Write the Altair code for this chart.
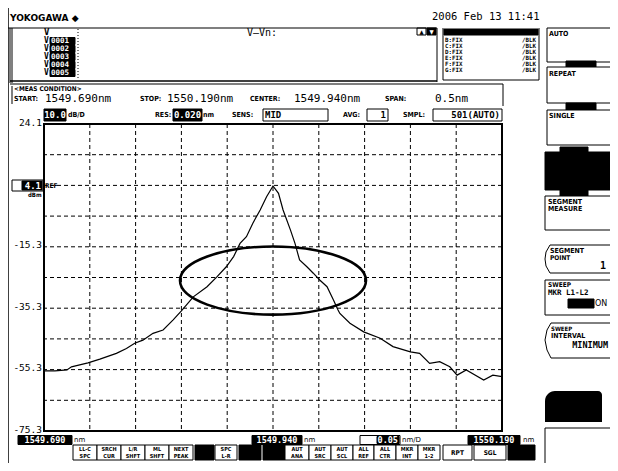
import altair as alt
import pandas as pd

wavelength_nm = [1549.690, 1549.702, 1549.715, 1549.720, 1549.738, 1549.751, 1549.769, 1549.780,
                 1549.789, 1549.798, 1549.809, 1549.820, 1549.831, 1549.840, 1549.853, 1549.868,
                 1549.879, 1549.889, 1549.897, 1549.904, 1549.911, 1549.918, 1549.926, 1549.933,
                 1549.940, 1549.946, 1549.951, 1549.959, 1549.964, 1549.969, 1549.977, 1549.984,
                 1549.991, 1549.999, 1550.006, 1550.011, 1550.013, 1550.024, 1550.039, 1550.057,
                 1550.071, 1550.090, 1550.100, 1550.111, 1550.122, 1550.133, 1550.141, 1550.151,
                 1550.170, 1550.180, 1550.190]
level_dbm = [-56.3, -56.3, -56.0, -55.0, -53.7, -52.5, -50.6, -49.0,
             -47.3, -46.3, -44.1, -43.0, -39.7, -36.8, -32.2, -28.9,
             -25.6, -22.4, -19.1, -14.8, -12.6, -8.2, -3.9, 0.4,
             3.9, 1.5, -3.9, -10.4, -14.8, -20.2, -22.4, -24.5,
             -26.7, -28.9, -33.2, -36.5, -37.6, -40.8, -43.6, -45.7,
             -48.4, -50.1, -50.6, -53.9, -53.3, -55.0, -57.7, -56.0,
             -59.3, -57.7, -58.2]

x_grid_nm = [1549.74, 1549.79, 1549.84, 1549.89, 1549.94, 1549.99, 1550.04, 1550.09, 1550.14]
y_grid_dbm = [14.1, 4.1, -5.9, -15.9, -25.9, -35.9, -45.9, -55.9, -65.9]
y_label_dbm = [24.1, -15.9, -35.9, -55.9, -75.9]
y_label_text = ["24.1", "-15.3", "-35.3", "-55.3", "-75.3"]
ellipse_nm = [1549.940]
ellipse_dbm = [-26.9]

# ---------------- layout ----------------
OX, OY = 44, 124      # page position of the plot origin
W, H = 458, 307
MONO = "DejaVu Sans Mono"
UI = "DejaVu Sans Condensed, Liberation Sans Narrow, DejaVu Sans, sans-serif"

xs = alt.Scale(domain=[1549.69, 1550.19], nice=False, zero=False)
ys = alt.Scale(domain=[-75.9, 24.1], nice=False, zero=False)

rects, rules, dotted, texts, polys = [], [], [], [], []


def box(x1, y1, x2, y2, fill="white", stroke="black"):
    rects.append(dict(x1=x1 - OX, y1=y1 - OY, x2=x2 - OX, y2=y2 - OY, fill=fill, stroke=stroke))


def rule(x1, y1, x2, y2, w=1.0):
    rules.append(dict(x1=x1 - OX, y1=y1 - OY, x2=x2 - OX, y2=y2 - OY, w=w))


def txt(x, y, t, s, c="black", font=UI, weight="bold", align="left"):
    texts.append(dict(x=x - OX, y=y - OY, t=t, s=s, c=c, font=font, weight=weight, align=align))


def poly(g, pts):
    for i, (px, py) in enumerate(pts):
        polys.append(dict(g=g, o=i, x=px - OX, y=py - OY))


# outer frame of the screen
rule(8, 5, 625, 5, 1.5)
rule(8, 5, 8, 470, 1.5)
# header / trace value area
rule(8, 28, 437, 28, 1.2)
rule(10, 28, 10, 83, 1)
rule(12, 28, 12, 83, 1)
rule(10, 81, 437, 81, 1.5)
rule(10, 84, 503, 84, 1.2)
rule(437, 28, 437, 82, 1)
rule(443, 28, 443, 80, 1)
rule(443, 80, 539, 80, 1)
rule(539, 28, 539, 80, 1)
rule(503, 84, 503, 106, 1)
rule(12, 86, 12, 104, 1)
dotted.append(dict(x1=78 - OX, y1=29 - OY, x2=78 - OX, y2=80 - OY))

txt(10, 18, "YOKOGAWA \u25c6", 9, font="DejaVu Sans, sans-serif")
txt(432, 17, "2006 Feb 13 11:41", 10.5, font=MONO, weight="normal")

txt(44, 32, "V", 9, font=MONO)
for i, yy in enumerate([41, 49, 57, 65, 73]):
    txt(44, yy, "V", 8, font=MONO)
    box(50, yy - 3.5, 75, yy + 3.5, "black", "black")
    txt(51, yy, "000%d" % (i + 1), 7.5, "white", font=MONO)
txt(247, 33, "V\u2014Vn:", 10, font=MONO, weight="normal")

box(417, 28, 426, 35)
box(427, 28, 436, 35, "black", "black")
txt(421.5, 31.5, "\u25b2", 6, align="center")
txt(431.5, 31.5, "\u25bc", 6, "white", align="center")

box(444, 29, 538, 35, "black", "black")
for i, lab in enumerate(["B:FIX", "C:FIX", "D:FIX", "E:FIX", "F:FIX", "G:FIX"]):
    txt(445, 40 + 6 * i, lab, 5.8, font=MONO)
    txt(536, 40 + 6 * i, "/BLK", 5.8, font=MONO, align="right")

# measurement conditions
txt(14, 89, "<MEAS CONDITION>", 6.5)
txt(14, 99, "START:", 7)
txt(45, 99, "1549.690nm", 11, font=MONO, weight="normal")
txt(140, 99, "STOP:", 7)
txt(167, 99, "1550.190nm", 11, font=MONO, weight="normal")
txt(250, 99, "CENTER:", 7)
txt(294, 99, "1549.940nm", 11, font=MONO, weight="normal")
txt(385, 99, "SPAN:", 7)
txt(435, 99, "0.5nm", 11, font=MONO, weight="normal")

box(44, 109, 66, 121, "black", "black")
txt(55, 115, "10.0", 9, "white", font=MONO, align="center")
txt(68, 115, "dB/D", 7)
txt(155, 115, "RES:", 7)
box(173, 109, 202, 121, "black", "black")
txt(187.5, 115, "0.020", 9, "white", font=MONO, align="center")
txt(203, 115, "nm", 7)
txt(232, 115, "SENS:", 7)
box(263, 109, 328, 121)
txt(265, 115, "MID", 9, font=MONO, weight="bold")
txt(343, 115, "AVG:", 7)
box(367, 109, 388, 121)
txt(386, 115, "1", 9, font=MONO, align="right")
txt(403, 115, "SMPL:", 7)
box(433, 109, 502, 121)
txt(500, 115, "501(AUTO)", 9, font=MONO, align="right")

# reference level
box(12, 180, 43, 191)
box(22, 181, 42, 190, "black", "black")
txt(41, 185.5, "4.1", 9, "white", font=MONO, align="right")
txt(45, 186, "REF", 6.5)
txt(28, 195, "dBm", 6)

# soft keys on the right
box(547, 28, 625, 62)
txt(549, 34, "AUTO", 7)
box(566, 61, 596, 67, "black", "black")
box(547, 67, 625, 103)
txt(549, 74, "REPEAT", 7)
box(566, 103, 596, 110, "black", "black")
box(547, 110, 625, 145)
txt(549, 116, "SINGLE", 7)
box(560, 147, 588, 153, "black", "black")
box(545, 152, 625, 190, "black", "black")
box(560, 189, 588, 196, "black", "black")
box(545, 196, 625, 230)
txt(548, 202, "SEGMENT", 7)
txt(548, 209, "MEASURE", 7)
poly("seg", [(625, 245), (550, 245), (546, 252), (545, 259), (546, 266), (550, 273), (625, 273)])
txt(550, 251, "SEGMENT", 7)
txt(550, 258, "POINT", 6.5)
txt(606, 266, "1", 10, font=MONO, align="right")
box(545, 280, 625, 315)
txt(548, 285, "SWEEP", 6.5)
txt(548, 292.5, "MKR L1-L2", 7.5, font=MONO)
box(568, 299, 594, 308, "black", "black")
txt(595, 304, "ON", 8, font="DejaVu Sans, sans-serif", weight="normal")
poly("int", [(625, 323), (551, 323), (547, 330), (545, 340), (547, 350), (551, 358), (625, 358)])
txt(551, 329, "SWEEP", 6)
txt(551, 336, "INTERVAL", 7)
txt(608, 345, "MINIMUM", 8.5, font=MONO, align="right")
box(545, 428, 625, 465)

# bottom value labels
LBL_Y0, LBL_Y1, LBL_YC = 435.5, 444.5, 440
box(18, LBL_Y0, 72, LBL_Y1, "black", "black")
txt(45, LBL_YC, "1549.690", 8.5, "white", font=MONO, align="center")
txt(74, LBL_YC, "nm", 7, weight="normal", font="DejaVu Sans, sans-serif")
box(252, LBL_Y0, 302, LBL_Y1, "black", "black")
txt(277, LBL_YC, "1549.940", 8.5, "white", font=MONO, align="center")
txt(304, LBL_YC, "nm", 7, weight="normal", font="DejaVu Sans, sans-serif")
box(360, LBL_Y0, 400, LBL_Y1)
box(377, LBL_Y0 + 1, 399, LBL_Y1 - 1, "black", "black")
txt(398, LBL_YC, "0.05", 8.5, "white", font=MONO, align="right")
txt(402, LBL_YC, "nm/D", 7, weight="normal", font="DejaVu Sans, sans-serif")
box(468, LBL_Y0, 520, LBL_Y1, "black", "black")
txt(494, LBL_YC, "1550.190", 8.5, "white", font=MONO, align="center")
txt(523, LBL_YC, "nm", 7, weight="normal", font="DejaVu Sans, sans-serif")

# bottom function buttons
buttons = [(73, 97, "LL-C", "SPC", False), (97, 121, "SRCH", "CUR", False),
           (121, 145, "L/R", "SHFT", False), (145, 169, "ML", "SHFT", False),
           (169, 193, "NEXT", "PEAK", False), (195, 214, "", "", True),
           (215, 237, "SPC", "L-R", False), (239, 261, "", "", True),
           (263, 285, "", "", True), (285, 309, "AUT", "ANA", False),
           (309, 331, "AUT", "SRC", False), (331, 353, "AUT", "SCL", False),
           (353, 374, "ALL", "REF", False), (374, 396, "ALL", "CTR", False),
           (396, 418, "MKR", "INT", False), (418, 440, "MKR", "1-2", False),
           (443, 472, "RPT", "", False), (474, 506, "SGL", "", False),
           (508, 535, "", "", True)]
for bx1, bx2, t1, t2, dark in buttons:
    if dark:
        box(bx1, 445, bx2, 460, "black", "black")
    else:
        box(bx1, 445, bx2, 460)
        if t2:
            txt((bx1 + bx2) / 2, 449, t1, 5.5, align="center")
            txt((bx1 + bx2) / 2, 456, t2, 5.5, align="center")
        else:
            txt((bx1 + bx2) / 2, 452.5, t1, 6.5, align="center")

# ---------------- charts ----------------
bg_rects = alt.Chart(pd.DataFrame(rects)).mark_rect(strokeWidth=1).encode(
    x=alt.X("x1:Q", scale=None), x2="x2:Q",
    y=alt.Y("y1:Q", scale=None), y2="y2:Q",
    fill=alt.Fill("fill:N", scale=None), stroke=alt.Stroke("stroke:N", scale=None))

blob = alt.Chart(pd.DataFrame({"a": [0]})).mark_rect(
    color="black", cornerRadiusTopLeft=10, cornerRadiusTopRight=4).encode(
    x=alt.value(545 - OX), x2=alt.value(602 - OX), y=alt.value(391 - OY), y2=alt.value(422 - OY))

rule_layer = alt.Chart(pd.DataFrame(rules)).mark_rule(color="black").encode(
    x=alt.X("x1:Q", scale=None), x2="x2:Q",
    y=alt.Y("y1:Q", scale=None), y2="y2:Q",
    strokeWidth=alt.StrokeWidth("w:Q", scale=None))

dot_layer = alt.Chart(pd.DataFrame(dotted)).mark_rule(color="black", strokeDash=[1, 2]).encode(
    x=alt.X("x1:Q", scale=None), x2="x2:Q",
    y=alt.Y("y1:Q", scale=None), y2="y2:Q")

poly_layer = alt.Chart(pd.DataFrame(polys)).mark_line(color="black", strokeWidth=1).encode(
    x=alt.X("x:Q", scale=None), y=alt.Y("y:Q", scale=None),
    detail="g:N", order="o:Q")

vgrid = alt.Chart(pd.DataFrame({"nm": x_grid_nm})).mark_rule(
    color="black", strokeDash=[4, 3], strokeWidth=1).encode(
    x=alt.X("nm:Q", scale=xs, axis=None))
hgrid = alt.Chart(pd.DataFrame({"db": y_grid_dbm})).mark_rule(
    color="black", strokeDash=[4, 3], strokeWidth=1).encode(
    y=alt.Y("db:Q", scale=ys, axis=None))

trace = alt.Chart(pd.DataFrame({"nm": wavelength_nm, "db": level_dbm})).mark_line(
    color="black", strokeWidth=1.2).encode(
    x=alt.X("nm:Q", scale=xs, axis=None), y=alt.Y("db:Q", scale=ys, axis=None))

ELLIPSE = ("M -1 0 C -1 -0.2021 -0.5523 -0.366 0 -0.366 C 0.5523 -0.366 1 -0.2021 1 0 "
           "C 1 0.2021 0.5523 0.366 0 0.366 C -0.5523 0.366 -1 0.2021 -1 0 Z")
ellipse = alt.Chart(pd.DataFrame({"nm": ellipse_nm, "db": ellipse_dbm})).mark_point(
    shape=ELLIPSE, size=186 ** 2, filled=False, color="black", strokeWidth=2.6, opacity=1).encode(
    x=alt.X("nm:Q", scale=xs, axis=None), y=alt.Y("db:Q", scale=ys, axis=None))

frame = alt.Chart(pd.DataFrame({"a": [0]})).mark_rect(
    fillOpacity=0, stroke="black", strokeWidth=2).encode(
    x=alt.value(0), x2=alt.value(W), y=alt.value(0), y2=alt.value(H))

ylabels = alt.Chart(pd.DataFrame({"db": y_label_dbm, "t": y_label_text})).mark_text(
    align="right", baseline="middle", font=MONO, fontSize=9.5, dx=-2, dy=-1.5, color="black").encode(
    x=alt.value(0), y=alt.Y("db:Q", scale=ys, axis=None), text="t:N")

tdf = pd.DataFrame(texts)
text_layers = []
for (font, weight, align), sub in tdf.groupby(["font", "weight", "align"]):
    text_layers.append(
        alt.Chart(sub.drop(columns=["font", "weight", "align"])).mark_text(
            font=font, fontWeight=weight, align=align, baseline="middle").encode(
            x=alt.X("x:Q", scale=None), y=alt.Y("y:Q", scale=None), text="t:N",
            size=alt.Size("s:Q", scale=None), color=alt.Color("c:N", scale=None)))

chart = alt.layer(
    bg_rects, blob, vgrid, hgrid, trace, ellipse, frame, rule_layer, dot_layer, poly_layer,
    ylabels, *text_layers
).properties(
    width=W, height=H, autosize="none",
    padding={"left": OX - 8, "top": OY - 8, "right": 602 - (OX - 8) - W, "bottom": 455 - (OY - 8) - H},
    background="white"
).configure_view(stroke=None)

chart.save("out.html", embed_options={"renderer": "svg", "actions": False})
